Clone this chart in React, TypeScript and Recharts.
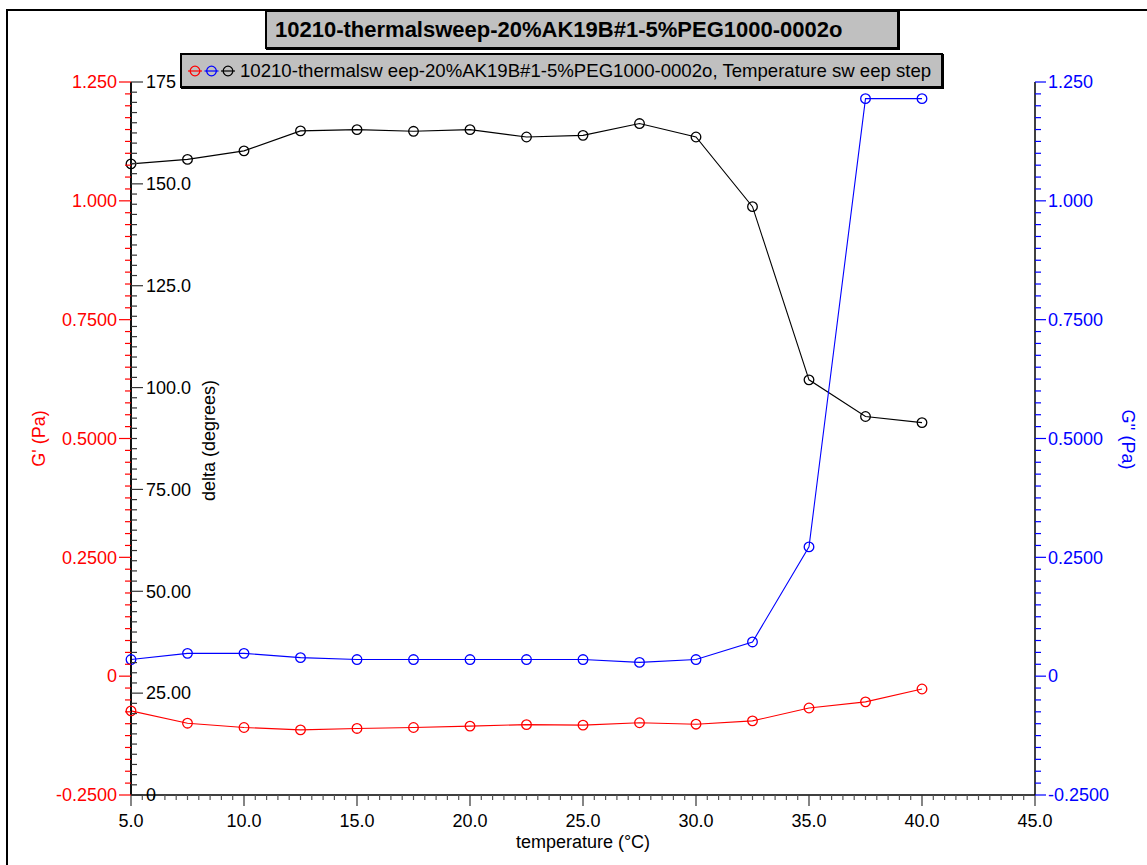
import { LineChart, Line, XAxis, YAxis, Legend } from 'recharts';

const FONT = '"Liberation Sans", Arial, Helvetica, sans-serif';

const chartTitle = '10210-thermalsweep-20%AK19B#1-5%PEG1000-0002o';
const legendLabel = '10210-thermalsw eep-20%AK19B#1-5%PEG1000-0002o, Temperature sw eep step';

// temperature (°C)
const temperature = [5, 7.5, 10, 12.5, 15, 17.5, 20, 22.5, 25, 27.5, 30, 32.5, 35, 37.5, 40];
// G' (Pa)
const gPrime = [-0.073, -0.099, -0.108, -0.113, -0.11, -0.108, -0.105, -0.102, -0.103, -0.098, -0.101, -0.094, -0.067, -0.054, -0.027];
// G'' (Pa)
const gDoublePrime = [0.035, 0.048, 0.048, 0.039, 0.035, 0.035, 0.035, 0.035, 0.035, 0.029, 0.035, 0.072, 0.272, 1.215, 1.215];
// delta (degrees)
const delta = [154.9, 156.0, 158.1, 163.0, 163.3, 162.9, 163.3, 161.5, 161.9, 164.8, 161.5, 144.4, 101.9, 92.9, 91.4];

const xMajor = [5, 10, 15, 20, 25, 30, 35, 40, 45];
const xLabels = ['5.0', '10.0', '15.0', '20.0', '25.0', '30.0', '35.0', '40.0', '45.0'];
const gMajor = [-0.25, 0, 0.25, 0.5, 0.75, 1.0, 1.25];
const gLabels = ['-0.2500', '0', '0.2500', '0.5000', '0.7500', '1.000', '1.250'];
const deltaMajor = [0, 25, 50, 75, 100, 125, 150, 175];
const deltaLabels = ['0', '25.00', '50.00', '75.00', '100.0', '125.0', '150.0', '175'];

const RED = '#ff0000';
const BLUE = '#0000ff';
const BLACK = '#000000';

const data = temperature.map((t, i) => ({
  t,
  gp: gPrime[i],
  gpp: gDoublePrime[i],
  delta: delta[i],
}));

function withMinor(major: number[], parts: number) {
  const out: number[] = [];
  for (let i = 0; i < major.length - 1; i++) {
    const step = (major[i + 1] - major[i]) / parts;
    for (let k = 0; k < parts; k++) out.push(major[i] + k * step);
  }
  out.push(major[major.length - 1]);
  return out;
}

function labelOf(v: number, major: number[], labels: string[]) {
  const i = major.findIndex((m) => Math.abs(m - v) < 1e-9);
  return i >= 0 ? labels[i] : null;
}

const xTicks = withMinor(xMajor, 10);
const gTicks = withMinor(gMajor, 10);
const deltaTicks = withMinor(deltaMajor, 10);

const GTick = (props: any) => {
  const { x, y, payload } = props;
  const label = labelOf(payload.value, gMajor, gLabels);
  return (
    <g>
      <line x1={x - (label ? 12 : 6)} x2={x} y1={y} y2={y} stroke={RED} strokeWidth={1.2} />
      {label && (
        <text x={x - 14} y={y} dy="0.35em" textAnchor="end" fill={RED} fontSize={18} fontFamily={FONT}>
          {label}
        </text>
      )}
    </g>
  );
};

const DeltaTick = (props: any) => {
  const { x, y, payload } = props;
  const label = labelOf(payload.value, deltaMajor, deltaLabels);
  return (
    <g>
      <line x1={x} x2={x + (label ? 12 : 6)} y1={y} y2={y} stroke="#333" strokeWidth={1.2} />
      {label && (
        <text x={x + 15} y={y} dy="0.35em" textAnchor="start" fill={BLACK} fontSize={18} fontFamily={FONT}>
          {label}
        </text>
      )}
    </g>
  );
};

const GppTick = (props: any) => {
  const { x, y, payload } = props;
  const label = labelOf(payload.value, gMajor, gLabels);
  return (
    <g>
      <line x1={x} x2={x + (label ? 11 : 6)} y1={y} y2={y} stroke={BLUE} strokeWidth={1.2} />
      {label && (
        <text x={x + 13} y={y} dy="0.35em" textAnchor="start" fill={BLUE} fontSize={18} fontFamily={FONT}>
          {label}
        </text>
      )}
    </g>
  );
};

const XTick = (props: any) => {
  const { x, y, payload } = props;
  const label = labelOf(payload.value, xMajor, xLabels);
  return (
    <g>
      <line x1={x} x2={x} y1={y} y2={y + (label ? 11 : 5)} stroke={label ? '#333' : '#555'} strokeWidth={1.2} />
      {label && (
        <text x={x} y={y + 26} dy="0.35em" textAnchor="middle" fill={BLACK} fontSize={18} fontFamily={FONT}>
          {label}
        </text>
      )}
    </g>
  );
};

const rotated = (text: string, cx: number, cy: number, angle: number, color: string) => (
  <text
    x={cx}
    y={cy}
    dy="0.35em"
    textAnchor="middle"
    transform={`rotate(${angle}, ${cx}, ${cy})`}
    fill={color}
    fontSize={18}
    fontFamily={FONT}
  >
    {text}
  </text>
);

const LegendBox = () => (
  <div
    style={{
      boxSizing: 'border-box',
      width: 763,
      height: 35,
      display: 'flex',
      alignItems: 'center',
      overflow: 'hidden',
      background: '#c0c0c0',
      border: '2px solid #000',
      boxShadow: '1px 1px 0 #000',
      fontFamily: FONT,
      fontSize: 18.6,
      color: '#000',
      whiteSpace: 'nowrap',
    }}
  >
    <svg width={56} height={20} style={{ marginLeft: 2, flexShrink: 0 }}>
      {[RED, BLUE, BLACK].map((c, i) => (
        <g key={c}>
          <line x1={4 + i * 16.5} x2={18 + i * 16.5} y1={10} y2={10} stroke={c} strokeWidth={1.2} />
          <circle cx={11 + i * 16.5} cy={10} r={4.8} fill="none" stroke={c} strokeWidth={1.3} />
        </g>
      ))}
    </svg>
    <span style={{ flexShrink: 0 }}>{legendLabel}</span>
  </div>
);

export default function App() {
  return (
    <div style={{ position: 'absolute', left: 0, top: 0, width: 1147, height: 865, background: '#fff', fontFamily: FONT }}>
      <div
        style={{
          position: 'absolute',
          left: 6,
          top: 9,
          width: 1200,
          height: 900,
          borderLeft: '2px solid #000',
          borderTop: '2px solid #000',
        }}
      />
      <LineChart width={1147} height={865} data={data} margin={{ top: 82, right: 42, bottom: 40, left: 71 }}>
        <XAxis
          dataKey="t"
          type="number"
          domain={[5, 45]}
          ticks={xTicks}
          interval={0}
          tickLine={false}
          tickSize={0}
          tickMargin={0}
          tick={<XTick />}
          height={30}
          axisLine={{ stroke: BLACK, strokeWidth: 1.5 }}
          label={(p: any) => rotated('temperature (°C)', p.viewBox.x + p.viewBox.width / 2, p.viewBox.y + 47, 0, BLACK)}
        />
        <YAxis
          yAxisId="gp"
          orientation="left"
          type="number"
          domain={[-0.25, 1.25]}
          ticks={gTicks}
          interval={0}
          tickLine={false}
          tickSize={0}
          tickMargin={0}
          tick={<GTick />}
          width={60}
          axisLine={{ stroke: BLACK, strokeWidth: 1.5 }}
          label={(p: any) => rotated("G' (Pa)", p.viewBox.x - 32, p.viewBox.y + p.viewBox.height / 2, -90, RED)}
        />
        <YAxis
          yAxisId="delta"
          orientation="left"
          mirror
          type="number"
          domain={[0, 175]}
          ticks={deltaTicks}
          interval={0}
          tickLine={false}
          tickSize={0}
          tickMargin={0}
          tick={<DeltaTick />}
          width={60}
          axisLine={{ stroke: BLACK, strokeWidth: 1.5 }}
          label={(p: any) => rotated('delta (degrees)', p.viewBox.x + 78, p.viewBox.y + p.viewBox.height / 2 + 2, -90, BLACK)}
        />
        <YAxis
          yAxisId="gpp"
          orientation="right"
          type="number"
          domain={[-0.25, 1.25]}
          ticks={gTicks}
          interval={0}
          tickLine={false}
          tickSize={0}
          tickMargin={0}
          tick={<GppTick />}
          width={70}
          axisLine={{ stroke: BLACK, strokeWidth: 1.5 }}
          label={(p: any) => rotated("G'' (Pa)", p.viewBox.x + 93, p.viewBox.y + p.viewBox.height / 2 + 1, 90, BLUE)}
        />
        <Legend
          layout="horizontal"
          verticalAlign="middle"
          align="center"
          content={() => <LegendBox />}
          wrapperStyle={{ left: 180, top: 53, width: 'auto' }}
        />
        <Line
          yAxisId="delta"
          dataKey="delta"
          type="linear"
          stroke={BLACK}
          strokeWidth={1.1}
          dot={{ r: 4.8, stroke: BLACK, strokeWidth: 1.3, fill: 'none' }}
          isAnimationActive={false}
        />
        <Line
          yAxisId="gp"
          dataKey="gp"
          type="linear"
          stroke={RED}
          strokeWidth={1.1}
          dot={{ r: 4.8, stroke: RED, strokeWidth: 1.3, fill: 'none' }}
          isAnimationActive={false}
        />
        <Line
          yAxisId="gpp"
          dataKey="gpp"
          type="linear"
          stroke={BLUE}
          strokeWidth={1.1}
          dot={{ r: 4.8, stroke: BLUE, strokeWidth: 1.3, fill: 'none' }}
          isAnimationActive={false}
        />
      </LineChart>
      <div
        style={{
          position: 'absolute',
          left: 265,
          top: 10,
          width: 634,
          height: 39,
          boxSizing: 'border-box',
          background: '#c0c0c0',
          border: '2px solid #000',
          boxShadow: '1px 1px 0 #000',
          display: 'flex',
          alignItems: 'center',
          paddingLeft: 8,
          fontFamily: FONT,
          fontWeight: 'bold',
          fontSize: 22,
          color: '#000',
          whiteSpace: 'nowrap',
        }}
      >
        {chartTitle}
      </div>
    </div>
  );
}
